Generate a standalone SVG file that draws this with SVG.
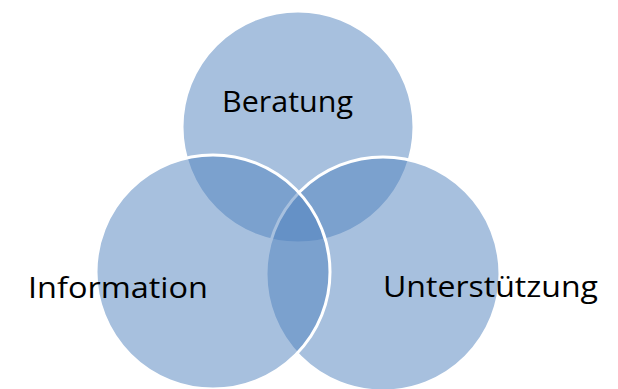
<svg xmlns="http://www.w3.org/2000/svg" width="618" height="389" viewBox="0 0 618 389">
  <style>
    .c { fill: #4F81BD; fill-opacity: 0.5; stroke: #ffffff; stroke-width: 3; }
    .t { font-family: "Comic Sans MS", "Open Sans", sans-serif; font-size: 29px; fill: #000000; }
  </style>
  <rect width="618" height="389" fill="#ffffff"/>
  <g id="beratung">
    <circle class="c" cx="298" cy="127" r="116"/>
    <text class="t" x="222" y="112" textLength="131" lengthAdjust="spacingAndGlyphs">Beratung</text>
  </g>
  <g id="unterstuetzung">
    <circle class="c" cx="383" cy="274" r="117"/>
    <text class="t" x="383" y="297" textLength="215" lengthAdjust="spacingAndGlyphs">Unterstützung</text>
  </g>
  <g id="information">
    <circle class="c" cx="213" cy="272" r="117"/>
    <text class="t" x="28" y="298" textLength="180" lengthAdjust="spacingAndGlyphs">Information</text>
  </g>
</svg>
